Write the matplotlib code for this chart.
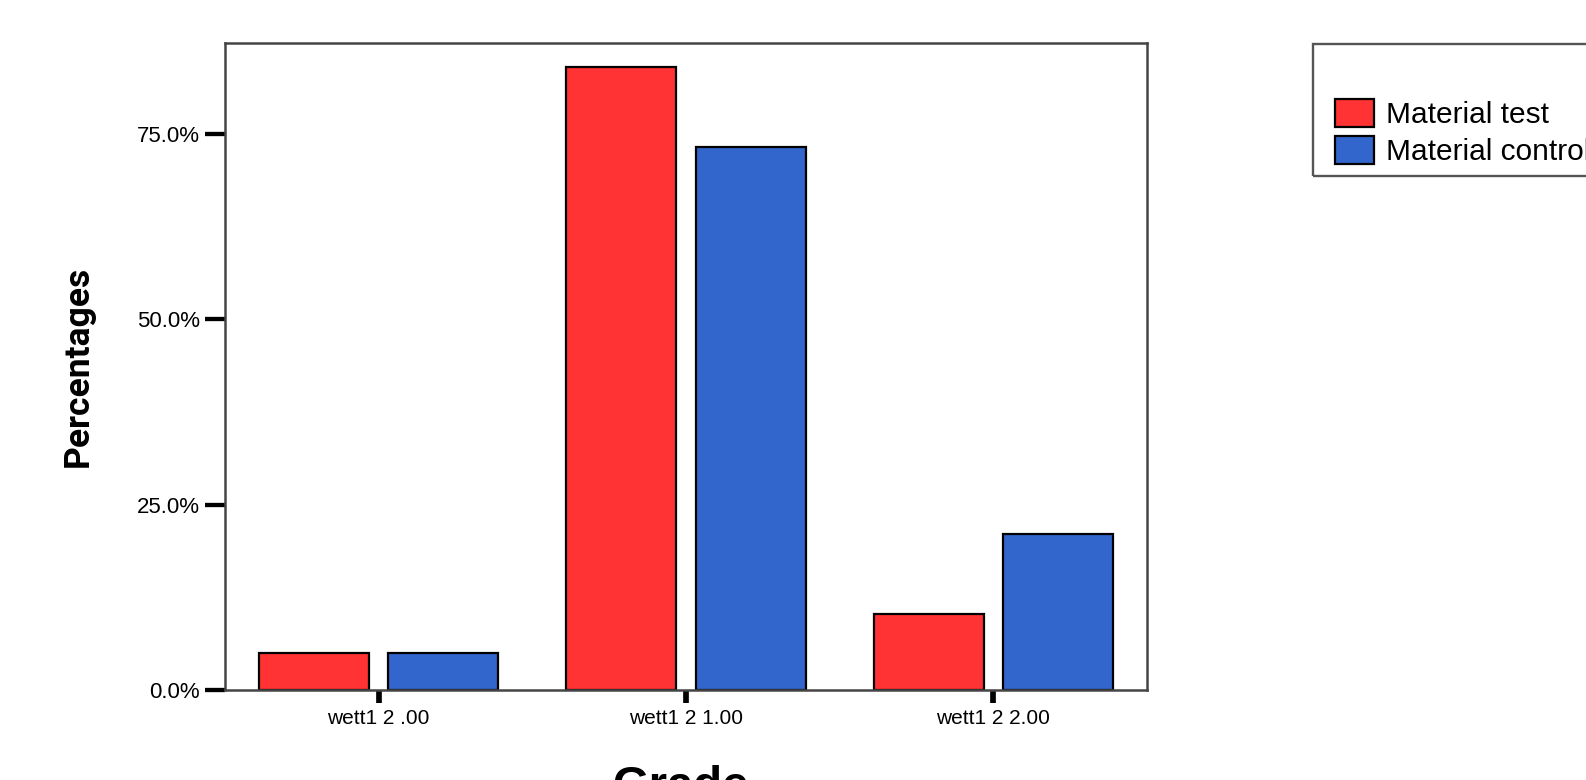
import numpy as np
from matplotlib import pyplot as plt
from matplotlib.patches import Rectangle


# podaci s grafa
categories = ["wett1 2 .00", "wett1 2 1.00", "wett1 2 2.00"]
test_values = [5.0, 84.0, 10.3]
control_values = [5.0, 73.3, 21.0]
series_names = ["Material test", "Material control"]
y_ticks = [0, 25, 50, 75]

red = "#ff3333"
blue = "#3366cc"
spine_col = "#454545"

plt.rcParams['font.family'] = ['Liberation Sans', 'DejaVu Sans']

fig = plt.figure(figsize=(15.86, 7.8), dpi=100)
ax = fig.add_axes([225/1586, 1-690/780, 922/1586, 647/780])

x = np.arange(len(categories))
width = 0.358
off = 0.21

b1 = ax.bar(x - off, test_values, width, color=red, edgecolor="black", linewidth=1.6, label=series_names[0])
b2 = ax.bar(x + off, control_values, width, color=blue, edgecolor="black", linewidth=1.6, label=series_names[1])

ax.set_xlim(-0.5, 2.5)
ax.set_ylim(0, 87.28)

ax.set_yticks(y_ticks)
ax.set_yticklabels(["%.1f%%" % v for v in y_ticks], fontsize=16)
ax.set_xticks(x)
ax.set_xticklabels(categories, fontsize=15)

ax.tick_params(axis="y", length=14.4, width=3.1, color="black", pad=3.6)
ax.tick_params(axis="x", length=9.4, width=4.1, color="black", pad=4.2)

for s in ax.spines.values():
    s.set_color(spine_col)
    s.set_linewidth(1.8)

# naslovi osi
fig.text(88/1586, 1-366/780, "Percentages", rotation=90, rotation_mode="anchor",
         ha="center", va="baseline", fontsize=25.5, fontweight="bold",
         family=['Liberation Sans Narrow', 'Roboto', 'DejaVu Sans'])
fig.text(680/1586, 1-799/780, "Grade", ha="center", va="baseline",
         fontsize=34, fontweight="bold")

# okvir legende (izlazi van slike)
fig.add_artist(Rectangle((1313/1586, 1-175.7/780), 0.2, 131.7/780,
                         transform=fig.transFigure, fill=False,
                         edgecolor="#555555", linewidth=1.7, clip_on=False))

fig.legend(handles=[b1, b2], labels=series_names, loc="upper left",
           bbox_to_anchor=(1335/1586, 1-99/780), frameon=False,
           fontsize=21.5, borderpad=0, borderaxespad=0,
           handlelength=1.3, handleheight=1.07, handletextpad=0.42,
           labelspacing=0.22)

fig.savefig("out.png", dpi=100)
